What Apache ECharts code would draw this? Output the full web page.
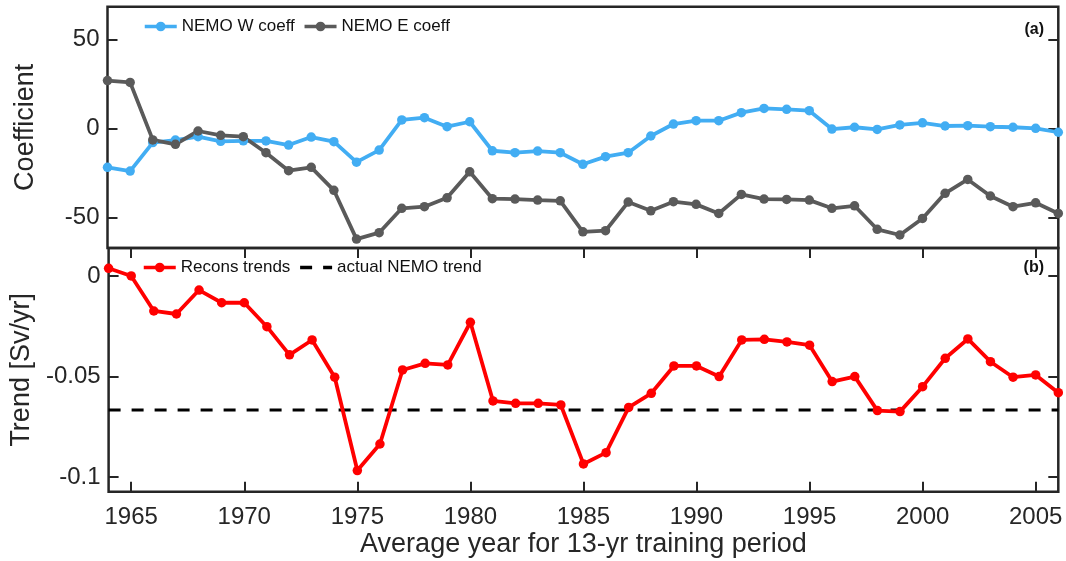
<!DOCTYPE html>
<html>
<head>
<meta charset="utf-8">
<script src="https://cdn.jsdelivr.net/npm/echarts@6/dist/echarts.min.js"></script>
<style>
  html, body { margin: 0; padding: 0; background: #fff; }
  #chart { width: 1066px; height: 561px; }
</style>
</head>
<body>
<div id="chart"></div>
<script>
// Average year of each 13-yr training window
const years = [1964, 1965, 1966, 1967, 1968, 1969, 1970, 1971, 1972, 1973, 1974,
  1975, 1976, 1977, 1978, 1979, 1980, 1981, 1982, 1983, 1984, 1985, 1986, 1987,
  1988, 1989, 1990, 1991, 1992, 1993, 1994, 1995, 1996, 1997, 1998, 1999, 2000,
  2001, 2002, 2003, 2004, 2005, 2006];

// Panel (a): regression coefficients
const wCoeff = [-21.9, -24.0, -8.0, -6.6, -4.7, -7.3, -7.0, -7.1, -9.4, -4.9, -7.5,
  -19.0, -12.2, 4.7, 6.0, 0.9, 3.7, -12.6, -13.7, -12.8, -13.7, -20.2, -15.9, -13.7,
  -4.3, 2.4, 4.3, 4.3, 8.8, 11.2, 10.7, 9.9, -0.4, 0.6, -0.6, 1.9, 3.1,
  1.3, 1.5, 0.9, 0.6, 0.0, -2.2];
const eCoeff = [26.8, 25.8, -6.5, -9.0, -1.5, -3.9, -4.7, -13.7, -23.8, -21.9, -34.8,
  -62.2, -58.6, -44.9, -44.0, -39.0, -24.4, -39.5, -39.7, -40.3, -40.7, -58.1, -57.5, -41.4,
  -46.3, -41.2, -42.7, -47.8, -37.1, -39.7, -39.9, -40.3, -44.9, -43.5, -56.7, -59.9, -50.6,
  -36.5, -28.7, -38.0, -44.0, -41.8, -47.8];

// Panel (b): reconstructed trends and the model trend
const reconsTrend = [0.0038, 0.0, -0.0174, -0.0189, -0.0070, -0.0133, -0.0133, -0.0252, -0.0392, -0.0318, -0.0503,
  -0.0967, -0.0835, -0.0467, -0.0434, -0.0442, -0.0230, -0.0621, -0.0633, -0.0633, -0.0641, -0.0934, -0.0878, -0.0653,
  -0.0583, -0.0447, -0.0447, -0.0500, -0.0318, -0.0315, -0.0328, -0.0344, -0.0525, -0.0500, -0.0669, -0.0674, -0.0550,
  -0.0409, -0.0313, -0.0426, -0.0503, -0.0492, -0.0580];
const actualTrend = -0.0666;

// Tick positions
const xTicks = [1965, 1970, 1975, 1980, 1985, 1990, 1995, 2000, 2005];
const coeffTicks = [-50, 0, 50];
const trendTicks = [-0.1, -0.05, 0];

const FONT = 'Liberation Sans, Arial, Helvetica, sans-serif';
const INK = '#262626';
const X_MIN = 1964, X_MAX = 2006;
const LINE_W = 3.8, MARK = 9.5;

const pair = (vals) => vals.map((v, i) => [years[i], v]);

const tickStyle = (vals) => ({
  show: true, inside: true, length: 10, customValues: vals,
  lineStyle: { color: INK, width: 2 }
});
const noLine = { show: false, onZero: false };
const noLabel = { show: false };

const grids = [
  { left: 107.5, top: 6.7, width: 950.8, height: 241.3 },
  { left: 107.5, top: 248, width: 950.8, height: 243.7 }
].map(g => Object.assign(g, {
  show: true, borderColor: INK, borderWidth: 2.5, backgroundColor: 'rgba(0,0,0,0)',
  containLabel: false
}));

const legendBase = {
  itemWidth: 32, itemHeight: 12, itemGap: 8, padding: 0,
  lineStyle: { width: 3.5 },
  textStyle: { fontSize: 17, color: '#111', fontFamily: FONT }
};

const chart = echarts.init(document.getElementById('chart'), null, { renderer: 'canvas' });

chart.setOption({
  animation: false,
  backgroundColor: '#ffffff',
  textStyle: { fontFamily: FONT },
  grid: grids,
  xAxis: [
    { type: 'value', gridIndex: 0, min: X_MIN, max: X_MAX, position: 'bottom',
      axisLine: noLine, axisTick: { show: false }, axisLabel: noLabel, splitLine: { show: false } },
    { type: 'value', gridIndex: 1, min: X_MIN, max: X_MAX, position: 'bottom',
      axisLine: noLine, axisTick: tickStyle(xTicks),
      axisLabel: { show: true, customValues: xTicks, formatter: (v) => String(v),
        color: INK, fontSize: 24, fontFamily: FONT, margin: 14 },
      splitLine: { show: false },
      name: 'Average year for 13-yr training period', nameLocation: 'middle', nameGap: 36,
      nameTextStyle: { color: INK, fontSize: 27, fontFamily: FONT } },
    { type: 'value', gridIndex: 1, min: X_MIN, max: X_MAX, position: 'top',
      axisLine: noLine, axisTick: tickStyle(xTicks), axisLabel: noLabel, splitLine: { show: false } }
  ],
  yAxis: [
    { type: 'value', gridIndex: 0, min: -67.2, max: 68.3, position: 'left',
      axisLine: noLine, axisTick: tickStyle(coeffTicks),
      axisLabel: { show: true, customValues: coeffTicks, color: INK, fontSize: 24, fontFamily: FONT, margin: 8 },
      splitLine: { show: false },
      name: 'Coefficient', nameLocation: 'middle', nameGap: 68,
      nameTextStyle: { color: INK, fontSize: 27, fontFamily: FONT } },
    { type: 'value', gridIndex: 0, min: -67.2, max: 68.3, position: 'right',
      axisLine: noLine, axisTick: tickStyle(coeffTicks), axisLabel: noLabel, splitLine: { show: false } },
    { type: 'value', gridIndex: 1, min: -0.1072, max: 0.0139, position: 'left',
      axisLine: noLine, axisTick: tickStyle(trendTicks),
      axisLabel: { show: true, customValues: trendTicks, color: INK, fontSize: 24, fontFamily: FONT, margin: 8 },
      splitLine: { show: false },
      name: 'Trend [Sv/yr]', nameLocation: 'middle', nameGap: 68,
      nameTextStyle: { color: INK, fontSize: 27, fontFamily: FONT } },
    { type: 'value', gridIndex: 1, min: -0.1072, max: 0.0139, position: 'right',
      axisLine: noLine, axisTick: tickStyle(trendTicks), axisLabel: noLabel, splitLine: { show: false } }
  ],
  legend: [
    Object.assign({ data: ['NEMO W coeff', 'NEMO E coeff'], left: 143, top: 18 }, legendBase),
    Object.assign({ data: ['Recons trends', { name: 'actual NEMO trend', itemStyle: { opacity: 0 } }],
      left: 142, top: 259 }, legendBase)
  ],
  series: [
    { name: 'NEMO W coeff', type: 'line', xAxisIndex: 0, yAxisIndex: 0, data: pair(wCoeff),
      symbol: 'circle', symbolSize: MARK, color: '#42adf3',
      lineStyle: { width: LINE_W, color: '#42adf3' }, itemStyle: { color: '#42adf3' } },
    { name: 'NEMO E coeff', type: 'line', xAxisIndex: 0, yAxisIndex: 0, data: pair(eCoeff),
      symbol: 'circle', symbolSize: MARK, color: '#5a5a5a',
      lineStyle: { width: LINE_W, color: '#5a5a5a' }, itemStyle: { color: '#5a5a5a' } },
    { name: 'actual NEMO trend', type: 'line', xAxisIndex: 1, yAxisIndex: 2,
      data: [[X_MIN, actualTrend], [X_MAX, actualTrend]],
      symbol: 'none', color: '#000',
      lineStyle: { width: 3, color: '#000', type: [12, 11] } },
    { name: 'Recons trends', type: 'line', xAxisIndex: 1, yAxisIndex: 2, data: pair(reconsTrend),
      symbol: 'circle', symbolSize: MARK, color: '#ff0000',
      lineStyle: { width: LINE_W, color: '#ff0000' }, itemStyle: { color: '#ff0000' } }
  ],
  graphic: [
    { type: 'text', x: 1044, y: 30, style: { text: '(a)', font: 'bold 16px ' + FONT, fill: '#111',
      textAlign: 'right', textVerticalAlign: 'middle' } },
    { type: 'text', x: 1044, y: 268, style: { text: '(b)', font: 'bold 16px ' + FONT, fill: '#111',
      textAlign: 'right', textVerticalAlign: 'middle' } }
  ]
});
</script>
</body>
</html>
